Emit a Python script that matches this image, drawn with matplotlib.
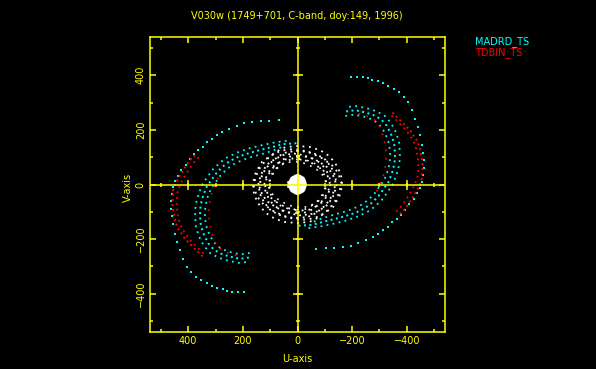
import matplotlib
matplotlib.use("Agg")
import matplotlib.pyplot as plt
import numpy as np

# ---------------- data (u, v) ----------------
title = "V030w (1749+701, C-band, doy:149, 1996)"
legend_names = ["MADRD_TS", "TDBIN_TS"]
major_ticks = [-400, -200, 0, 200, 400]
minor_ticks = [-500, -400, -300, -200, -100, 0, 100, 200, 300, 400, 500]

# MADRD_TS (cyan) - sparse outer arc (one half, conjugate added when drawing)
cyan_outer_u = [67, 104, 135, 168, 196, 223, 251, 276, 294, 314, 333, 347, 363, 379,
                395, 410, 425, 437, 447, 455, 460, 463, 462, 459,
                455, 449, 442, 430, 418, 406, 391, 373, 355, 333, 314, 294, 274,
                257, 239, 217, 195]
cyan_outer_v = [236, 234, 234, 229, 224, 215, 203, 191, 181, 165, 154, 138, 126, 111,
                92, 72, 52, 32, 12, -10, -35, -60, -88, -115,
                -143, -180, -211, -241, -272, -303, -321, -337, -349, -362, -371, -379, -384,
                -389, -392, -395, -395]

# MADRD_TS dense band: neighbouring tracks
cyan_mid_u = [4, 53, 89, 138, 174, 211, 247, 272, 296, 314, 333, 345, 355, 357,
              354, 343, 327, 306, 278, 248, 211, 168]
cyan_mid_v = [151, 148, 138, 126, 116, 104, 87, 67, 43, 18, -9, -39, -76, -113,
              -150, -183, -215, -239, -254, -264, -272, -266]
cyan_out_u = [40, 88, 135, 178, 218, 255, 283, 309, 329, 349, 362, 373, 375,
              372, 361, 343, 320, 289, 255, 215, 175]
cyan_out_v = [160, 153, 143, 132, 118, 101, 81, 56, 29, -1, -35, -74, -114,
              -153, -190, -224, -251, -268, -279, -287, -283]
cyan_in_u = [60, 90, 135, 168, 203, 237, 260, 282, 299, 317, 328, 337, 339,
             336, 325, 311, 292, 267, 241, 207, 170]
cyan_in_v = [136, 124, 110, 101, 89, 73, 55, 33, 9, -16, -43, -77, -113,
             -147, -177, -205, -227, -240, -249, -256, -250]

# TDBIN_TS (red) tracks
red_a_u = [375, 394, 406, 418, 430, 440, 449, 455, 457, 458, 455, 451, 445, 437,
           424, 412, 394, 376, 357, 345]
red_a_v = [108, 89, 71, 53, 34, 16, -3, -21, -46, -70, -95, -119, -143, -162,
           -180, -199, -217, -235, -254, -266]
red_b_u = [362, 380, 393, 405, 417, 426, 434, 440, 442, 442, 440, 436, 430, 421,
           409, 397, 380, 363, 346, 334]
red_b_v = [100, 80, 62, 43, 24, 6, -12, -32, -55, -78, -101, -124, -146, -165,
           -182, -200, -217, -234, -251, -262]
red_in_u = [290, 303, 315, 322, 325, 322, 314, 305, 290, 270, 245, 217]
red_in_v = [25, -5, -35, -70, -105, -140, -175, -205, -230, -245, -254, -260]

# Short baselines (white)
white1_u = [-2, 44, 79, 114, 137, 154, 160, 148, 125, 90, 55, 21, -14, -60, -95,
            -129, -153, -164, -159, -141, -118, -84, -48, -2]
white1_v = [141, 137, 120, 91, 62, 27, -9, -44, -72, -96, -113, -124, -130, -124,
            -107, -84, -44, -3, 38, 73, 103, 125, 137, 141]
white2_u = [-2, 38, 69, 99, 119, 134, 139, 129, 109, 78, 48, 18, -12, -52, -83,
            -112, -133, -143, -138, -123, -103, -73, -42, -2]
white2_v = [123, 119, 104, 79, 54, 23, -8, -38, -63, -84, -98, -108, -113, -108,
            -93, -73, -38, -3, 33, 64, 90, 109, 119, 123]
white3_u = [-1, 33, 58, 84, 101, 114, 118, 110, 93, 67, 41, 16, -10, -44, -70,
            -95, -113, -121, -117, -104, -87, -62, -36, -1]
white3_v = [105, 102, 89, 68, 46, 20, -7, -32, -53, -71, -84, -92, -96, -92,
            -79, -62, -33, -2, 28, 54, 76, 93, 101, 105]
white4_u = [-1, 29, 51, 74, 89, 100, 104, 97, 82, 59, 36, 14, -9, -39, -62,
            -84, -99, -106, -103, -92, -77, -55, -32, -1]
white4_v = [92, 90, 78, 60, 40, 18, -6, -28, -47, -62, -74, -81, -84, -81,
            -70, -55, -29, -2, 25, 48, 67, 82, 89, 92]
blob_u = [18, 13, 0, -13, -18, -13, 0, 13, 18]
blob_v = [0, 15, 22, 15, 0, -15, -22, -15, 0]

YEL = "#ffff00"
CYA = "#00ffff"
RED = "#ff0000"
WHT = "#ffffff"

fig = plt.figure(figsize=(5.96, 3.69), dpi=100, facecolor="black")
ax = fig.add_axes([150 / 596, 37 / 369, 295 / 596, 295 / 369])
ax.set_facecolor("black")


def conj(u, v):
    u = np.asarray(u, float)
    v = np.asarray(v, float)
    return (u, v), (-u, -v)


def dotted(u, v, color, lw=1.4, pat=(1, 1.6), z=3):
    for uu, vv in conj(u, v):
        ax.plot(uu, vv, color=color, lw=lw, ls=(0, pat), zorder=z,
                dash_capstyle="butt")


def dots(u, v, color, ms=1.6, z=3):
    for uu, vv in conj(u, v):
        ax.plot(uu, vv, ls="none", marker="s", ms=ms, mew=0, color=color, zorder=z)


# white short baselines
dotted(white1_u, white1_v, WHT, lw=1.3, pat=(1, 2.6))
dotted(white2_u, white2_v, WHT, lw=1.3, pat=(1, 2.2))
dotted(white3_u, white3_v, WHT, lw=1.3, pat=(1, 2.8))
dotted(white4_u, white4_v, WHT, lw=1.2, pat=(1, 3.4))
ax.plot(blob_u, blob_v, color=WHT, lw=6.5, zorder=3, solid_joinstyle="round")

# cyan
dots(cyan_outer_u, cyan_outer_v, CYA)
dotted(cyan_mid_u, cyan_mid_v, CYA, lw=1.4, pat=(1, 1.8))
dotted(cyan_out_u, cyan_out_v, CYA, lw=1.3, pat=(1, 2.4))
dotted(cyan_in_u, cyan_in_v, CYA, lw=1.3, pat=(1, 2.4))

# red
dotted(red_a_u, red_a_v, RED, lw=1.4, pat=(1, 1.6), z=4)
dotted(red_b_u, red_b_v, RED, lw=1.3, pat=(1, 2.2), z=4)
dotted(red_in_u, red_in_v, RED, lw=1.2, pat=(1, 4.0), z=4)

# axes limits
ax.set_xlim(540, -540)
ax.set_ylim(-540, 540)

# crosshair through origin with ticks
ax.axhline(0, color=YEL, lw=1.1, zorder=5)
ax.axvline(0, color=YEL, lw=1.1, zorder=5)
ax.plot(major_ticks, np.zeros(len(major_ticks)), ls="none", marker="|", ms=7,
        mew=1.1, color=YEL, zorder=5)
ax.plot(minor_ticks, np.zeros(len(minor_ticks)), ls="none", marker="|", ms=3.5,
        mew=1.1, color=YEL, zorder=5)
ax.plot(np.zeros(len(major_ticks)), major_ticks, ls="none", marker="_", ms=7,
        mew=1.1, color=YEL, zorder=5)
ax.plot(np.zeros(len(minor_ticks)), minor_ticks, ls="none", marker="_", ms=3.5,
        mew=1.1, color=YEL, zorder=5)

for s in ax.spines.values():
    s.set_color(YEL)
    s.set_linewidth(1.1)

ax.set_xticks(major_ticks)
ax.set_yticks(major_ticks)
ax.set_xticks(minor_ticks, minor=True)
ax.set_yticks(minor_ticks, minor=True)
ax.set_xticklabels([str(t).replace("-", "\u2212") for t in major_ticks])
ax.set_yticklabels([str(t).replace("-", "\u2212") for t in major_ticks],
                   rotation=90, va="center")
ax.tick_params(which="both", direction="in", top=True, right=True, colors=YEL,
               labelcolor=YEL, width=1.1, labelsize=7)
ax.tick_params(which="major", length=4.0, pad=3)
ax.tick_params(which="minor", length=2.2)

fig.text(297 / 596, 1 - 359 / 369, "U-axis", color=YEL, fontsize=7,
         ha="center", va="center")
fig.text(128 / 596, 1 - 187 / 369, "V-axis", color=YEL, fontsize=7,
         ha="center", va="center", rotation=90)
fig.text(297 / 596, 1 - 16 / 369, title, color=YEL, fontsize=7,
         ha="center", va="center")
fig.text(475 / 596, 1 - 42 / 369, legend_names[0], color=CYA, fontsize=7,
         ha="left", va="center")
fig.text(475 / 596, 1 - 53 / 369, legend_names[1], color=RED, fontsize=7,
         ha="left", va="center")

fig.savefig("out.png", dpi=100, facecolor="black")
